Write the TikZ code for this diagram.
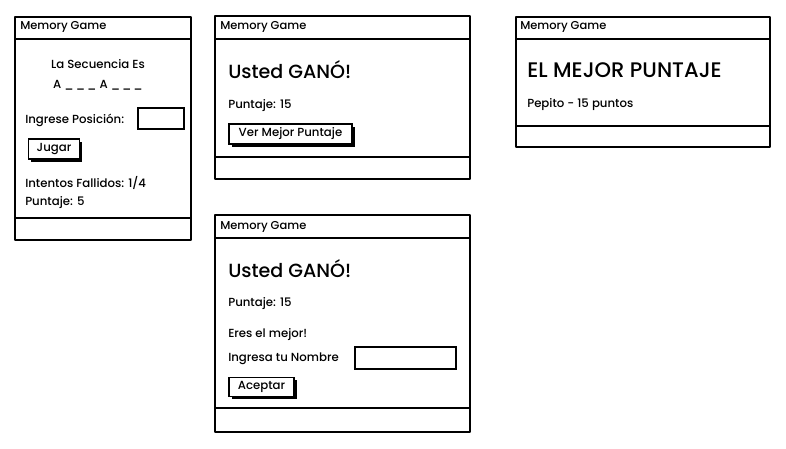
\documentclass[tikz,border=0pt]{standalone}
\usepackage{fontspec}
\setmainfont{Poppins}[UprightFont=* Medium]
\begin{document}
\begin{tikzpicture}[x=0.75pt,y=-0.75pt,
  frame/.style={draw=black,line width=1.4pt,line join=round},
  sep/.style={draw=black,line width=1.4pt},
  txt/.style={anchor=west,inner sep=0pt,font=\fontsize{8.8pt}{10pt}\selectfont},
  ttl/.style={anchor=west,inner sep=0pt,font=\fontsize{8.6pt}{10pt}\selectfont},
  big/.style={anchor=west,inner sep=0pt,font=\fontsize{14.3pt}{17pt}\selectfont},
  bigger/.style={anchor=west,inner sep=0pt,font=\fontsize{15.8pt}{18pt}\selectfont},
  btn/.style={draw=black,line width=1.2pt,fill=white,inner sep=0pt,font=\fontsize{8.8pt}{10pt}\selectfont},
  shadow/.style={fill=black},
  field/.style={draw=black,line width=1.3pt,fill=white}]
\useasboundingbox (0,0) rectangle (786,449);
\fill[white] (0,0) rectangle (786,449);

% ---------- Window 1 ----------
\draw[frame] (15,17) rectangle (191,240);
\draw[sep] (15,39) -- (191,39);
\draw[sep] (15,218) -- (191,218);
\node[ttl] (w1t) at (20,27) {Memory Game};
\node[txt,anchor=center] (w1a) at (98,64) {La Secuencia Es};
\node[txt,anchor=center] (w1b) at (98,85) {A \_\,\_\,\_ A \_\,\_\,\_};
\node[txt] (w1c) at (25,120) {Ingrese Posición:};
\draw[field] (138,108) rectangle (184,129);
\fill[shadow] (31,142) rectangle (82,162);
\node[btn,minimum width=51pt*0.75,minimum height=20pt*0.75] (w1btn) at (54,149) {Jugar};
\node[txt] (w1d) at (25,183) {Intentos Fallidos: 1/4};
\node[txt] (w1e) at (25,203) {Puntaje: 5};

% ---------- Window 2 ----------
\draw[frame] (215,16) rectangle (470,179);
\draw[sep] (215,39) -- (470,39);
\draw[sep] (215,157) -- (470,157);
\node[ttl] (w2t) at (220,27) {Memory Game};
\node[big] (w2a) at (228,70) {Usted GANÓ!};
\node[txt] (w2b) at (228,106) {Puntaje: 15};
\fill[shadow] (232,127) rectangle (355,147);
\node[btn,minimum width=123pt*0.75,minimum height=20pt*0.75] (w2btn) at (290.5,134) {Ver Mejor Puntaje};

% ---------- Window 3 ----------
\draw[frame] (215,215) rectangle (470,432);
\draw[sep] (215,238) -- (470,238);
\draw[sep] (215,408) -- (470,408);
\node[ttl] (w3t) at (220,227) {Memory Game};
\node[big] (w3a) at (228,269) {Usted GANÓ!};
\node[txt] (w3b) at (228,304) {Puntaje: 15};
\node[txt] (w3c) at (228,335) {Eres el mejor!};
\node[txt] (w3d) at (228,359) {Ingresa tu Nombre};
\draw[field] (355,347) rectangle (456,369);
\fill[shadow] (232,380) rectangle (297,399);
\node[btn,minimum width=65pt*0.75,minimum height=19pt*0.75] (w3btn) at (261.5,387) {Aceptar};

% ---------- Window 4 ----------
\draw[frame] (516,17) rectangle (770,147);
\draw[sep] (516,39) -- (770,39);
\draw[sep] (516,126) -- (770,126);
\node[ttl] (w4t) at (520,27) {Memory Game};
\node[bigger] (w4a) at (527,70) {EL MEJOR PUNTAJE};
\node[txt] (w4b) at (527,105) {Pepito - 15 puntos};
\end{tikzpicture}
\end{document}
